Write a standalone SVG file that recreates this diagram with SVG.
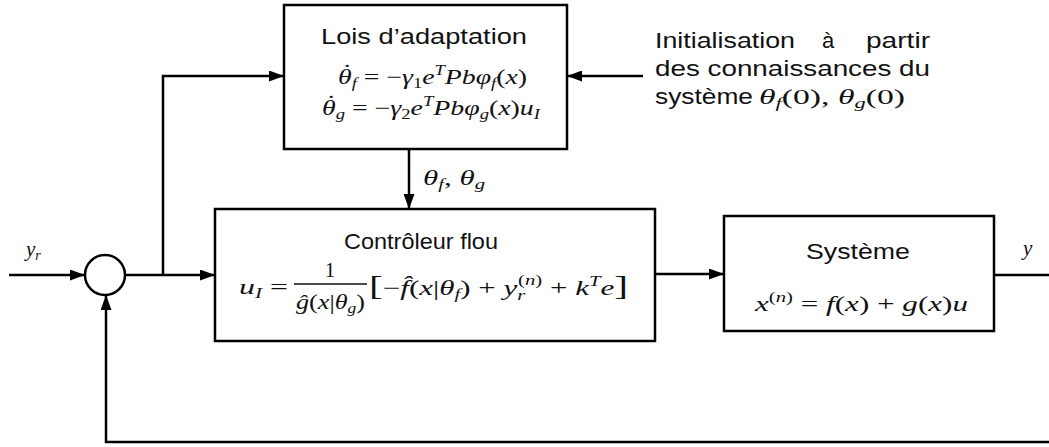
<svg xmlns="http://www.w3.org/2000/svg" width="1049" height="447" viewBox="0 0 1049 447">
<defs>
<marker id="arr" markerWidth="15" markerHeight="11" refX="15" refY="5.5" orient="auto" markerUnits="userSpaceOnUse"><path d="M0,0 L15,5.5 L0,11 Z" fill="#000"/></marker>
</defs>
<style>
.box{fill:#fff;stroke:#000;stroke-width:2.5}
.ln{fill:none;stroke:#000;stroke-width:2.5}
.t{font-family:"Liberation Sans",Arial,sans-serif;font-size:22px;fill:#111}
.m{font-family:"Liberation Serif","Times New Roman",serif;font-style:italic;font-size:21px;fill:#111}
.u{font-style:normal}
.s{font-size:14px}
.big{font-size:28px}
</style>
<rect width="1049" height="447" fill="#fff"/>
<g id="connectors">
<path class="ln" d="M9,275 H85" marker-end="url(#arr)"/>
<path class="ln" d="M125,275 H215" marker-end="url(#arr)"/>
<path class="ln" d="M163,275 V76 H284" marker-end="url(#arr)"/>
<path class="ln" d="M643,76 H567" marker-end="url(#arr)"/>
<path class="ln" d="M409,149 V209" marker-end="url(#arr)"/>
<path class="ln" d="M655,274 H724" marker-end="url(#arr)"/>
<path class="ln" d="M994,275 H1049"/>
<path class="ln" d="M1049,442 H106 V295" marker-end="url(#arr)"/>
</g>
<g id="sum">
<circle cx="105" cy="275" r="20" fill="#fff" stroke="#000" stroke-width="2.5"/>
</g>
<g id="adaptation">
<rect class="box" x="284" y="5" width="283" height="144"/>
<text class="t" x="321" y="44" textLength="206" lengthAdjust="spacingAndGlyphs">Lois d’adaptation</text>
<text class="m" x="338" y="84" textLength="189" lengthAdjust="spacingAndGlyphs">θ<tspan class="u" dx="-7" dy="-5">˙</tspan><tspan class="s" dy="9">f</tspan><tspan class="u" dy="-4"> = −</tspan>γ<tspan class="s u" dy="4">1</tspan><tspan dy="-4">e</tspan><tspan class="s" dy="-9">T</tspan><tspan dy="9">Pbφ</tspan><tspan class="s" dy="4">f</tspan><tspan class="u" dy="-4">(</tspan>x<tspan class="u">)</tspan></text>
<text class="m" x="322" y="115" textLength="218" lengthAdjust="spacingAndGlyphs">θ<tspan class="u" dx="-7" dy="-5">˙</tspan><tspan class="s" dy="9">g</tspan><tspan class="u" dy="-4"> = −</tspan>γ<tspan class="s u" dy="4">2</tspan><tspan dy="-4">e</tspan><tspan class="s" dy="-9">T</tspan><tspan dy="9">Pbφ</tspan><tspan class="s" dy="4">g</tspan><tspan class="u" dy="-4">(</tspan>x<tspan class="u">)</tspan>u<tspan class="s" dy="4">I</tspan></text>
</g>
<g id="init">
<text class="t" x="655" y="48" textLength="140" lengthAdjust="spacingAndGlyphs">Initialisation</text>
<text class="t" x="822" y="48">à</text>
<text class="t" x="866" y="48" textLength="64" lengthAdjust="spacingAndGlyphs">partir</text>
<text class="t" x="655" y="76" textLength="275" lengthAdjust="spacingAndGlyphs">des connaissances du</text>
<text class="t" x="655" y="104" textLength="98" lengthAdjust="spacingAndGlyphs">système</text>
<text class="m" x="759" y="104" textLength="146" lengthAdjust="spacingAndGlyphs">θ<tspan class="s" dy="4">f</tspan><tspan class="u" dy="-4">(0), </tspan>θ<tspan class="s" dy="4">g</tspan><tspan class="u" dy="-4">(0)</tspan></text>
</g>
<g id="theta-label">
<text class="m" x="423" y="185" textLength="62" lengthAdjust="spacingAndGlyphs">θ<tspan class="s" dy="4">f</tspan><tspan class="u" dy="-4">, </tspan>θ<tspan class="s" dy="4">g</tspan></text>
</g>
<g id="controleur">
<rect class="box" x="215" y="209" width="440" height="132"/>
<text class="t" x="344" y="249" textLength="154" lengthAdjust="spacingAndGlyphs">Contrôleur flou</text>
<text class="m" x="239" y="294" textLength="49" lengthAdjust="spacingAndGlyphs">u<tspan class="s" dy="4">I</tspan><tspan class="u" dy="-4"> =</tspan></text>
<text class="m u" x="330" y="277" text-anchor="middle">1</text>
<line x1="294" y1="284" x2="367" y2="284" stroke="#111" stroke-width="1.3"/>
<text class="m" x="296" y="309" textLength="69" lengthAdjust="spacingAndGlyphs">ĝ<tspan class="u">(</tspan>x<tspan class="u">|</tspan>θ<tspan class="s" dy="4">g</tspan><tspan class="u" dy="-4">)</tspan></text>
<text class="m" x="369" y="295" textLength="259" lengthAdjust="spacingAndGlyphs"><tspan class="u big">[</tspan><tspan class="u">−</tspan>f̂<tspan class="u">(</tspan>x<tspan class="u">|</tspan>θ<tspan class="s" dy="4">f</tspan><tspan class="u" dy="-4">) + </tspan>y<tspan class="s" dy="5">r</tspan><tspan class="s u" dx="-5" dy="-15">(<tspan font-style="italic">n</tspan>)</tspan><tspan class="u" dy="10"> + </tspan>k<tspan class="s" dy="-9">T</tspan><tspan dy="9">e</tspan><tspan class="u big">]</tspan></text>
</g>
<g id="systeme">
<rect class="box" x="724" y="216" width="270" height="115"/>
<text class="t" x="806" y="259" textLength="104" lengthAdjust="spacingAndGlyphs">Système</text>
<text class="m" x="755" y="311" textLength="213" lengthAdjust="spacingAndGlyphs">x<tspan class="s u" dy="-9">(<tspan font-style="italic">n</tspan>)</tspan><tspan class="u" dy="9"> = </tspan>f<tspan class="u">(</tspan>x<tspan class="u">) + </tspan>g<tspan class="u">(</tspan>x<tspan class="u">)</tspan>u</text>
</g>
<g id="labels">
<text class="m" x="1023" y="255" font-size="23">y</text>
<text class="m" x="26" y="256" font-size="23">y<tspan class="s" dy="4">r</tspan></text>
</g>
</svg>
